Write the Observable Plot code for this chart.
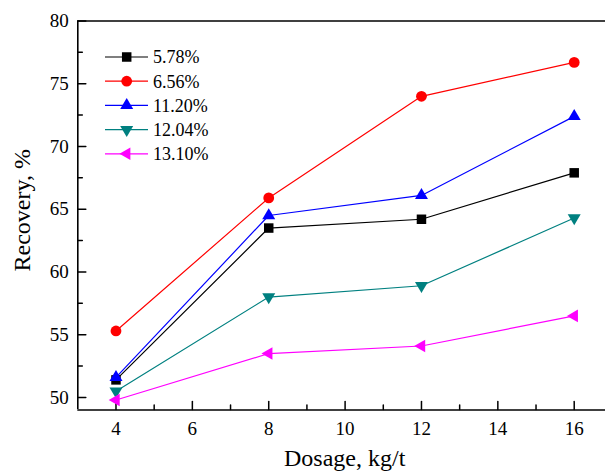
<!DOCTYPE html>
<html><head><meta charset="utf-8">
<script src="https://cdn.jsdelivr.net/npm/d3@7"></script>
<script src="https://cdn.jsdelivr.net/npm/@observablehq/plot@0.6"></script>
<style>
body{margin:0;background:#fff;}
#wrap{position:relative;width:605px;height:472px;overflow:hidden;background:#fff;}
#legend{position:absolute;left:0;top:0;}
svg, svg text, svg g { font-family: "Liberation Serif", "Times New Roman", serif !important; font-variant-numeric: normal !important; }
</style></head><body><div id="wrap"></div>
<script>
// ---- data ----
const dosage = [4, 8, 12, 16];
const seriesNames = ["5.78%", "6.56%", "11.20%", "12.04%", "13.10%"];
const rec578 = [51.4, 63.5, 64.2, 67.9];
const rec656 = [55.3, 65.9, 74.0, 76.7];
const rec1120 = [51.6, 64.5, 66.1, 72.4];
const rec1204 = [50.5, 58.0, 58.9, 64.3];
const rec1310 = [49.8, 53.5, 54.1, 56.5];
const seriesColors = ["#000000", "#ff0000", "#0000ff", "#008080", "#ff00ff"];
const xTicks = [4, 6, 8, 10, 12, 14, 16];
const xMinorTicks = [5, 7, 9, 11, 13, 15];
const yTicks = [50, 55, 60, 65, 70, 75, 80];
const yMinorTicks = [52.5, 57.5, 62.5, 67.5, 72.5, 77.5];
const xLabel = "Dosage, kg/t";
const yLabel = "Recovery, %";

const seriesValues = [rec578, rec656, rec1120, rec1204, rec1310];

// ---- symbols ----
const symSquare = {draw(c){ c.rect(-4.75, -4.75, 9.5, 9.5); }};
const symCircle = {draw(c){ c.moveTo(5.4, 0); c.arc(0, 0, 5.4, 0, 2 * Math.PI); }};
const symUp = {draw(c){ c.moveTo(0, -7.3); c.lineTo(6.5, 3.7); c.lineTo(-6.5, 3.7); c.closePath(); }};
const symDown = {draw(c){ c.moveTo(0, 7.3); c.lineTo(6.5, -3.7); c.lineTo(-6.5, -3.7); c.closePath(); }};
const symLeft = {draw(c){ c.moveTo(-7.3, 0); c.lineTo(3.7, -6.3); c.lineTo(3.7, 6.3); c.closePath(); }};
const seriesSymbols = [symSquare, symCircle, symUp, symDown, symLeft];

const tickShape = {draw(c, l){ c.moveTo(0, 0); c.lineTo(0, -l); }};

const font = "Liberation Serif, serif";

const seriesData = seriesNames.map((name, i) =>
  dosage.map((x, j) => ({series: name, x, y: seriesValues[i][j]})));

const seriesMarks = seriesData.flatMap((d, i) => [
  Plot.line(d, {x: "x", y: "y", stroke: seriesColors[i], strokeWidth: 1.2}),
  Plot.dot(d, {x: "x", y: "y", symbol: seriesSymbols[i], fill: seriesColors[i], stroke: "none", r: 5})
]);

const axisW = 1.6;
const chart = Plot.plot({
  width: 605, height: 472,
  marginTop: 20.5, marginBottom: 63, marginLeft: 77.3, marginRight: 0,
  style: {fontFamily: font, fontSize: "19px", background: "white", color: "black", overflow: "hidden"},
  x: {domain: [3, 17], range: [77.3, 611.9]},
  y: {domain: [49, 80], range: [409.5, 20.5]},
  marks: [
    Plot.axisX(xTicks, {tickSize: 0, tickPadding: 12, label: null, fontSize: 19, fill: "black"}),
    Plot.axisY(yTicks, {tickSize: 0, tickPadding: 9, label: null, fontSize: 19, fill: "black"}),
    Plot.vector(xTicks, {x: d => d, frameAnchor: "bottom", length: 8, anchor: "start", shape: tickShape, stroke: "black", strokeWidth: 1.5}),
    Plot.vector(xMinorTicks, {x: d => d, frameAnchor: "bottom", length: 4.5, anchor: "start", shape: tickShape, stroke: "black", strokeWidth: 1.5}),
    Plot.vector(yTicks, {y: d => d, frameAnchor: "left", length: 8, rotate: 90, anchor: "start", shape: tickShape, stroke: "black", strokeWidth: 1.5}),
    Plot.vector(yMinorTicks, {y: d => d, frameAnchor: "left", length: 4.5, rotate: 90, anchor: "start", shape: tickShape, stroke: "black", strokeWidth: 1.5}),
    Plot.ruleY([80], {stroke: "black", strokeWidth: axisW}),
    Plot.ruleY([49], {stroke: "black", strokeWidth: axisW}),
    Plot.ruleX([3], {stroke: "black", strokeWidth: axisW}),
    Plot.text([yLabel], {text: d => d, frameAnchor: "left", textAnchor: "middle", lineAnchor: "middle", rotate: -90, dx: -55, dy: -5, fontSize: 24, fill: "black"}),
    Plot.text([xLabel], {text: d => d, frameAnchor: "bottom", textAnchor: "middle", lineAnchor: "middle", dy: 49, dx: 3, fontSize: 24, fill: "black"}),
    ...seriesMarks
  ]
});

const wrap = document.getElementById("wrap");
wrap.appendChild(chart);

// ---- legend overlay ----
const leg = d3.select(wrap).append("svg").attr("id", "legend")
  .attr("width", 605).attr("height", 472)
  .attr("font-family", font).attr("font-size", 18);
seriesNames.forEach((name, i) => {
  const y = 57 + i * 24.2;
  const g = leg.append("g").attr("transform", `translate(0,${y})`);
  g.append("line").attr("x1", 105).attr("x2", 148).attr("y1", 0).attr("y2", 0)
    .attr("stroke", seriesColors[i]).attr("stroke-width", 1.2);
  g.append("path").attr("transform", "translate(126.7,0)")
    .attr("d", d3.symbol().type(seriesSymbols[i])()).attr("fill", seriesColors[i]);
  g.append("text").attr("x", 153).attr("y", 0).attr("dy", "0.35em").attr("fill", "black").text(name);
});
</script>
</body></html>
